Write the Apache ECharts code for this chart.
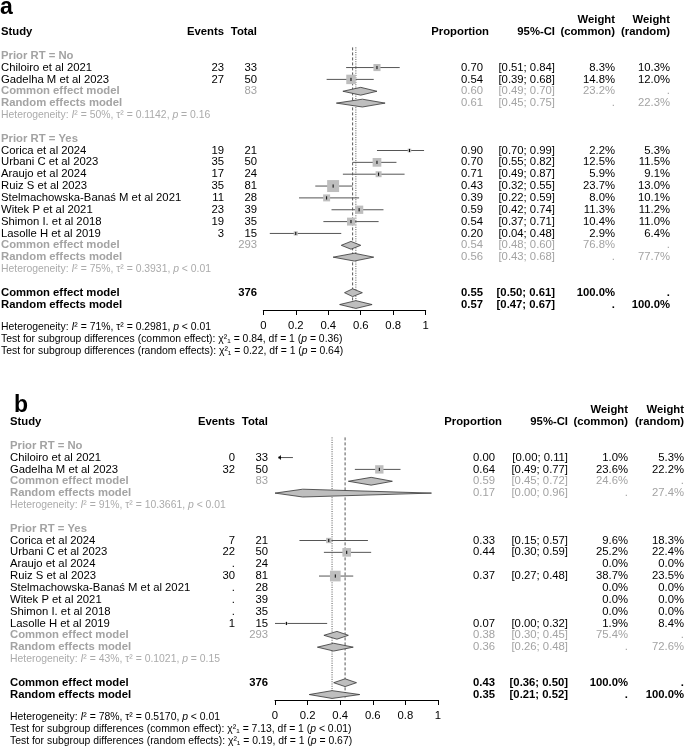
<!DOCTYPE html>
<html><head><meta charset="utf-8">
<script src="https://cdn.jsdelivr.net/npm/echarts@6/dist/echarts.min.js"></script>
<style>html,body{margin:0;padding:0;background:#fff}#c{width:685px;height:748px}</style>
</head><body><div id="c"></div>
<script>
// ---------------- data ----------------
const studies = ['Chiloiro et al 2021','Gadelha M et al 2023','Corica et al 2024','Urbani C et al 2023','Araujo et al 2024','Ruiz S et al 2023','Stelmachowska-Banaś M et al 2021','Witek P et al 2021','Shimon I. et al 2018','Lasolle H et al 2019'];
const studyGroup = [0,0,1,1,1,1,1,1,1,1];
const groupLabels = ['Prior RT = No','Prior RT = Yes'];
const totals = [33,50,21,50,24,81,28,39,35,15];
const groupTotals = [83,293];
const overallTotal = 376;
const tickValues = [0,0.2,0.4,0.6,0.8,1];

// panel a
const eventsA = [23,27,19,35,17,35,11,23,19,3];
const propA  = [0.70,0.54,0.90,0.70,0.71,0.43,0.39,0.59,0.54,0.20];
const lowerA = [0.51,0.39,0.70,0.55,0.49,0.32,0.22,0.42,0.37,0.04];
const upperA = [0.84,0.68,0.99,0.82,0.87,0.55,0.59,0.74,0.71,0.48];
const wCommonA = [8.3,14.8,2.2,12.5,5.9,23.7,8.0,11.3,10.4,2.9];
const wRandomA = [10.3,12.0,5.3,11.5,9.1,13.0,10.1,11.2,11.0,6.4];
const grpComEstA = [0.60,0.54], grpComLowA = [0.49,0.48], grpComUpA = [0.70,0.60], grpComWA = [23.2,76.8];
const grpRanEstA = [0.61,0.56], grpRanLowA = [0.45,0.43], grpRanUpA = [0.75,0.68], grpRanWA = [22.3,77.7];
const grpI2A = [50,75], grpTau2A = ['0.1142','0.3931'], grpPA = ['= 0.16','< 0.01'];
const allEstA = [0.55,0.57], allLowA = [0.50,0.47], allUpA = [0.61,0.67];
const allI2A = 71, allTau2A = '0.2981', allPA = '< 0.01';
const testChiA = ['0.84','0.22'], testPA = ['= 0.36','= 0.64'];

// panel b
const eventsB = [0,32,7,22,null,30,null,null,null,1];
const propB  = [0.00,0.64,0.33,0.44,null,0.37,null,null,null,0.07];
const lowerB = [0.00,0.49,0.15,0.30,null,0.27,null,null,null,0.00];
const upperB = [0.11,0.77,0.57,0.59,null,0.48,null,null,null,0.32];
const wCommonB = [1.0,23.6,9.6,25.2,0.0,38.7,0.0,0.0,0.0,1.9];
const wRandomB = [5.3,22.2,18.3,22.4,0.0,23.5,0.0,0.0,0.0,8.4];
const grpComEstB = [0.59,0.38], grpComLowB = [0.45,0.30], grpComUpB = [0.72,0.45], grpComWB = [24.6,75.4];
const grpRanEstB = [0.17,0.36], grpRanLowB = [0.00,0.26], grpRanUpB = [0.96,0.48], grpRanWB = [27.4,72.6];
const grpI2B = [91,43], grpTau2B = ['10.3661','0.1021'], grpPB = ['< 0.01','= 0.15'];
const allEstB = [0.43,0.35], allLowB = [0.36,0.21], allUpB = [0.50,0.52];
const allI2B = 78, allTau2B = '0.5170', allPB = '< 0.01';
const testChiB = ['7.13','0.19'], testPB = ['< 0.01','= 0.67'];

// ---------------- layout / style ----------------
const FAM = '"Liberation Sans", Arial, sans-serif';
const FS = 11.3, FSH = 10.4;
const GRAY = '#a3a3a3', HGRAY = '#ababab';
const PITCH = 11.85, YMIN = -2, YMAX = 23.46;

const panels = [
  {label:'a', labelX:0, labelTop:-4, top:32 + YMIN*PITCH, left:263.3, width:162.4,
   study:1, ev:224, tot:257, propH:489, prop:483, ci:555, wc:615, wr:670, sqK:2.46,
   events:eventsA, prop_:propA, lo:lowerA, hi:upperA, wC:wCommonA, wR:wRandomA,
   gce:grpComEstA, gcl:grpComLowA, gcu:grpComUpA, gcw:grpComWA,
   gre:grpRanEstA, grl:grpRanLowA, gru:grpRanUpA, grw:grpRanWA,
   gi2:grpI2A, gt2:grpTau2A, gp:grpPA, ae:allEstA, al:allLowA, au:allUpA,
   ai2:allI2A, at2:allTau2A, ap:allPA, tc:testChiA, tp:testPA},
  {label:'b', labelX:14, labelTop:394, top:422 + YMIN*PITCH, left:275, width:163,
   study:10, ev:235, tot:268, propH:502, prop:495, ci:568, wc:628, wr:684, sqK:1.72,
   events:eventsB, prop_:propB, lo:lowerB, hi:upperB, wC:wCommonB, wR:wRandomB,
   gce:grpComEstB, gcl:grpComLowB, gcu:grpComUpB, gcw:grpComWB,
   gre:grpRanEstB, grl:grpRanLowB, gru:grpRanUpB, grw:grpRanWB,
   gi2:grpI2B, gt2:grpTau2B, gp:grpPB, ae:allEstB, al:allLowB, au:allUpB,
   ai2:allI2B, at2:allTau2B, ap:allPB, tc:testChiB, tp:testPB}
];

function T(x, y, text, align, opt) {
  opt = opt || {};
  const size = opt.size || FS;
  const font = (opt.bold ? 'bold ' : '') + size + 'px ' + FAM;
  const color = opt.color || '#000';
  const st = {text: text, font: font, fill: color, align: align, textAlign: align,
              verticalAlign: 'middle', textVerticalAlign: 'middle'};
  if (opt.rich) {
    st.rich = {i: {font: 'italic ' + size + 'px ' + FAM, fill: color}};
  }
  return {type: 'text', x: x, y: y, style: st, silent: true};
}
const f2 = v => v.toFixed(2);
const ciStr = (l, u) => '[' + f2(l) + '; ' + f2(u) + ']';
const pct = w => w.toFixed(1) + '%';

function buildRows() {
  const rows = [{row:-1, kind:'hdr1'}, {row:0, kind:'hdr'}];
  let r = 2;
  for (let g = 0; g < groupLabels.length; g++) {
    rows.push({row:r++, kind:'group', g});
    studies.forEach((s, i) => { if (studyGroup[i] === g) rows.push({row:r++, kind:'study', i}); });
    rows.push({row:r++, kind:'gcom', g});
    rows.push({row:r++, kind:'gran', g});
    rows.push({row:r++, kind:'ghet', g});
    r++;
  }
  rows.push({row:r++, kind:'acom'});
  rows.push({row:r++, kind:'aran'});
  rows.push({row:24.9, kind:'ahet'});
  rows.push({row:25.9, kind:'test', t:0});
  rows.push({row:26.9, kind:'test', t:1});
  rows.push({row:1.3, kind:'ref', t:0});
  rows.push({row:1.3, kind:'ref', t:1});
  return rows;
}

function makeSeries(P, idx) {
  const rows = buildRows();
  const LS = {stroke:'#555', lineWidth:1};
  function diamond(c, X, y, lo, est, hi) {
    const h = 3.9;
    c.push({type:'polygon', shape:{points:[[X(lo), y],[X(est), y-h],[X(hi), y],[X(est), y+h]]},
            style:{fill:'#bebebe', stroke:'#333', lineWidth:0.8}});
  }
  return {
    type:'custom', xAxisIndex:idx, yAxisIndex:idx, clip:false, silent:true, animation:false, z:5,
    data: rows.map(() => [0.5, 0]),
    renderItem: function (params, api) {
      const r = rows[params.dataIndex];
      const y = api.coord([0, r.row])[1];
      const X = v => api.coord([v, r.row])[0];
      const c = [];
      const B = {bold:true};
      switch (r.kind) {
        case 'hdr1':
          c.push(T(P.wc, y, 'Weight', 'right', B), T(P.wr, y, 'Weight', 'right', B)); break;
        case 'hdr':
          c.push(T(P.study, y, 'Study', 'left', B), T(P.ev, y, 'Events', 'right', B),
                 T(P.tot, y, 'Total', 'right', B), T(P.propH, y, 'Proportion', 'right', B),
                 T(P.ci, y, '95%-CI', 'right', B), T(P.wc, y, '(common)', 'right', B),
                 T(P.wr, y, '(random)', 'right', B)); break;
        case 'group':
          c.push(T(P.study, y, groupLabels[r.g], 'left', {bold:true, color:GRAY})); break;
        case 'study': {
          const i = r.i, est = P.prop_[i];
          c.push(T(P.study, y, studies[i], 'left'),
                 T(P.ev, y, P.events[i] == null ? '.' : String(P.events[i]), 'right'),
                 T(P.tot, y, String(totals[i]), 'right'),
                 T(P.wc, y, pct(P.wC[i]), 'right'), T(P.wr, y, pct(P.wR[i]), 'right'));
          if (est != null) {
            c.push(T(P.prop, y, f2(est), 'right'), T(P.ci, y, ciStr(P.lo[i], P.hi[i]), 'right'));
            const x0 = X(P.lo[i]), x1 = X(P.hi[i]), xe = X(est);
            if (est <= tickValues[0]) {
              const tip = x0 + 3;
              c.push({type:'line', shape:{x1:tip, y1:y, x2:x1, y2:y}, style:LS});
              c.push({type:'polyline', shape:{points:[[tip+3, y-2],[tip, y],[tip+3, y+2]]}, style:LS});
            } else {
              c.push({type:'line', shape:{x1:x0, y1:y, x2:x1, y2:y}, style:LS});
              const s = P.sqK * Math.sqrt(P.wC[i]);
              c.push({type:'rect', shape:{x:xe - s/2, y:y - s/2, width:s, height:s}, style:{fill:'#bebebe'}});
              c.push({type:'line', shape:{x1:xe, y1:y-1.6, x2:xe, y2:y+1.6}, style:{stroke:'#000', lineWidth:1}});
            }
          }
          break;
        }
        case 'gcom': {
          const g = r.g, o = {bold:true, color:GRAY}, o2 = {color:GRAY};
          c.push(T(P.study, y, 'Common effect model', 'left', o), T(P.tot, y, String(groupTotals[g]), 'right', o2),
                 T(P.prop, y, f2(P.gce[g]), 'right', o2), T(P.ci, y, ciStr(P.gcl[g], P.gcu[g]), 'right', o2),
                 T(P.wc, y, pct(P.gcw[g]), 'right', o2), T(P.wr, y, '.', 'right', o2));
          diamond(c, X, y, P.gcl[g], P.gce[g], P.gcu[g]); break;
        }
        case 'gran': {
          const g = r.g, o = {bold:true, color:GRAY}, o2 = {color:GRAY};
          c.push(T(P.study, y, 'Random effects model', 'left', o),
                 T(P.prop, y, f2(P.gre[g]), 'right', o2), T(P.ci, y, ciStr(P.grl[g], P.gru[g]), 'right', o2),
                 T(P.wc, y, '.', 'right', o2), T(P.wr, y, pct(P.grw[g]), 'right', o2));
          diamond(c, X, y, P.grl[g], P.gre[g], P.gru[g]); break;
        }
        case 'ghet': {
          const g = r.g;
          c.push(T(P.study, y, 'Heterogeneity: {i|I}² = ' + P.gi2[g] + '%, τ² = ' + P.gt2[g] + ', {i|p} ' + P.gp[g],
                   'left', {size:FSH, color:HGRAY, rich:true}));
          break;
        }
        case 'acom':
          c.push(T(P.study, y, 'Common effect model', 'left', B), T(P.tot, y, String(overallTotal), 'right', B),
                 T(P.prop, y, f2(P.ae[0]), 'right', B), T(P.ci, y, ciStr(P.al[0], P.au[0]), 'right', B),
                 T(P.wc, y, '100.0%', 'right', B), T(P.wr, y, '.', 'right', B));
          diamond(c, X, y, P.al[0], P.ae[0], P.au[0]); break;
        case 'aran':
          c.push(T(P.study, y, 'Random effects model', 'left', B),
                 T(P.prop, y, f2(P.ae[1]), 'right', B), T(P.ci, y, ciStr(P.al[1], P.au[1]), 'right', B),
                 T(P.wc, y, '.', 'right', B), T(P.wr, y, '100.0%', 'right', B));
          diamond(c, X, y, P.al[1], P.ae[1], P.au[1]); break;
        case 'ahet':
          c.push(T(P.study, y, 'Heterogeneity: {i|I}² = ' + P.ai2 + '%, τ² = ' + P.at2 + ', {i|p} ' + P.ap,
                   'left', {size:FSH, rich:true}));
          break;
        case 'test':
          c.push(T(P.study, y, 'Test for subgroup differences (' + (r.t === 0 ? 'common effect' : 'random effects') +
                   '): χ²₁ = ' + P.tc[r.t] + ', df = 1 ({i|p} ' + P.tp[r.t] + ')', 'left', {size:FSH, rich:true}));
          break;
        case 'ref': {
          const xv = X(P.ae[r.t]);
          const y2 = api.coord([0, 23.3])[1];
          c.push({type:'line', shape:{x1:xv, y1:y, x2:xv, y2:y2},
                  style:{stroke:'#444', lineWidth:0.9, lineDash: r.t === 0 ? [3, 2] : [1, 1.3]}, z2:-1});
          break;
        }
      }
      return {type:'group', children:c};
    }
  };
}

const chart = echarts.init(document.getElementById('c'), null, {renderer:'canvas'});
const option = {
  animation:false,
  backgroundColor:'#fff',
  grid: panels.map(P => ({left:P.left, top:P.top, width:P.width, height:(YMAX - YMIN)*PITCH,
                          containLabel:false, outerBoundsMode:'none'})),
  xAxis: panels.map((P, k) => ({
    gridIndex:k, type:'value', min:tickValues[0], max:tickValues[tickValues.length-1],
    interval:tickValues[1] - tickValues[0],
    axisLine:{show:true, onZero:false, lineStyle:{color:'#000', width:1}},
    axisTick:{show:true, inside:false, length:5, lineStyle:{color:'#000', width:1}},
    axisLabel:{color:'#000', fontSize:FS, fontFamily:'Liberation Sans', margin:10},
    splitLine:{show:false}
  })),
  yAxis: panels.map((P, k) => ({gridIndex:k, type:'value', min:YMIN, max:YMAX, inverse:true, show:false})),
  graphic: panels.map(P => ({type:'text', left:P.labelX, top:P.labelTop,
    style:{text:P.label, font:'bold 23px ' + FAM, fill:'#000'}})),
  series: panels.map((P, k) => makeSeries(P, k))
};
chart.setOption(option);
</script>
</body></html>
